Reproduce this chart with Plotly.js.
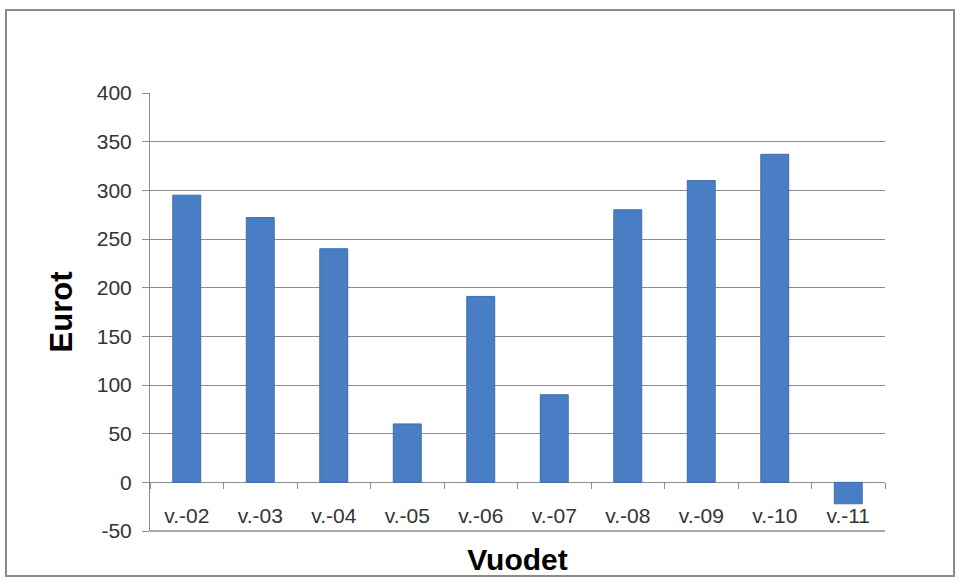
<!DOCTYPE html>
<html>
<head>
<meta charset="utf-8">
<script src="https://cdn.plot.ly/plotly-3.0.1.min.js"></script>
<style>
  body { margin: 0; background: #fff; }
  #wrap { position: relative; width: 960px; height: 581px; }
  #chart { width: 960px; height: 581px; }
  #frame { position: absolute; left: 5px; top: 9px; width: 950px; height: 568px;
           border: 2px solid #8a8a8a; pointer-events: none; box-sizing: border-box; }
</style>
</head>
<body>
<div id="wrap">
  <div id="chart"></div>
  <div id="frame"></div>
</div>
<script>
const categories = ["v.-02", "v.-03", "v.-04", "v.-05", "v.-06", "v.-07", "v.-08", "v.-09", "v.-10", "v.-11"];
const values = [295, 272, 240, 60, 191, 90, 280, 310, 337, -22];
const yTicks = [-50, 0, 50, 100, 150, 200, 250, 300, 350, 400];
const yTickLabels = ["-50", "0", "50", "100", "150", "200", "250", "300", "350", "400"];

const fontFam = '"Liberation Sans Narrow", "Liberation Sans", Arial, sans-serif';
const gridCol = '#8c8c8c';
const yMin = yTicks[0], yMax = yTicks[yTicks.length - 1];

const trace = {
  type: 'bar',
  x: categories,
  y: values,
  marker: { color: '#4a7ec4', line: { color: '#3d6cab', width: 1 } },
  hoverinfo: 'x+y'
};

const layout = {
  width: 960, height: 581,
  margin: { l: 150, r: 75, t: 93, b: 50 },
  paper_bgcolor: '#ffffff',
  plot_bgcolor: '#ffffff',
  showlegend: false,
  bargap: 0.62,
  font: { family: fontFam, color: '#222', size: 20 },
  xaxis: {
    type: 'category',
    range: [-0.5, categories.length - 0.5],
    anchor: 'free',
    position: (0 - yMin) / (yMax - yMin),
    ticks: 'outside', tickson: 'boundaries', ticklen: 6, tickcolor: gridCol, tickwidth: 1,
    ticklabelstandoff: 19,
    showgrid: false,
    showline: false,
    tickfont: { family: fontFam, size: 21, color: '#333' },
    title: { text: 'Vuodet', font: { family: 'Liberation Sans, Arial, sans-serif', size: 30, color: '#000', weight: 'bold' }, standoff: 22 }
  },
  yaxis: {
    range: [yMin, yMax],
    tickmode: 'array',
    tickvals: yTicks,
    ticktext: yTickLabels,
    ticks: 'outside', ticklen: 7, tickcolor: gridCol,
    showline: true, linecolor: gridCol, linewidth: 1,
    gridcolor: gridCol, gridwidth: 1,
    zeroline: true, zerolinecolor: gridCol, zerolinewidth: 1,
    tickfont: { family: fontFam, size: 21, color: '#333' },
    ticklabelstandoff: 6,
    title: { text: 'Eurot', font: { family: 'Liberation Sans, Arial, sans-serif', size: 31, color: '#000', weight: 'bold' }, standoff: 14 }
  },
  shapes: [{
    type: 'line', xref: 'paper', yref: 'paper',
    x0: 0, x1: 1, y0: 0, y1: 0,
    line: { color: gridCol, width: 1.5 }, layer: 'above'
  }]
};

Plotly.newPlot('chart', [trace], layout, { displayModeBar: false });
</script>
</body>
</html>
